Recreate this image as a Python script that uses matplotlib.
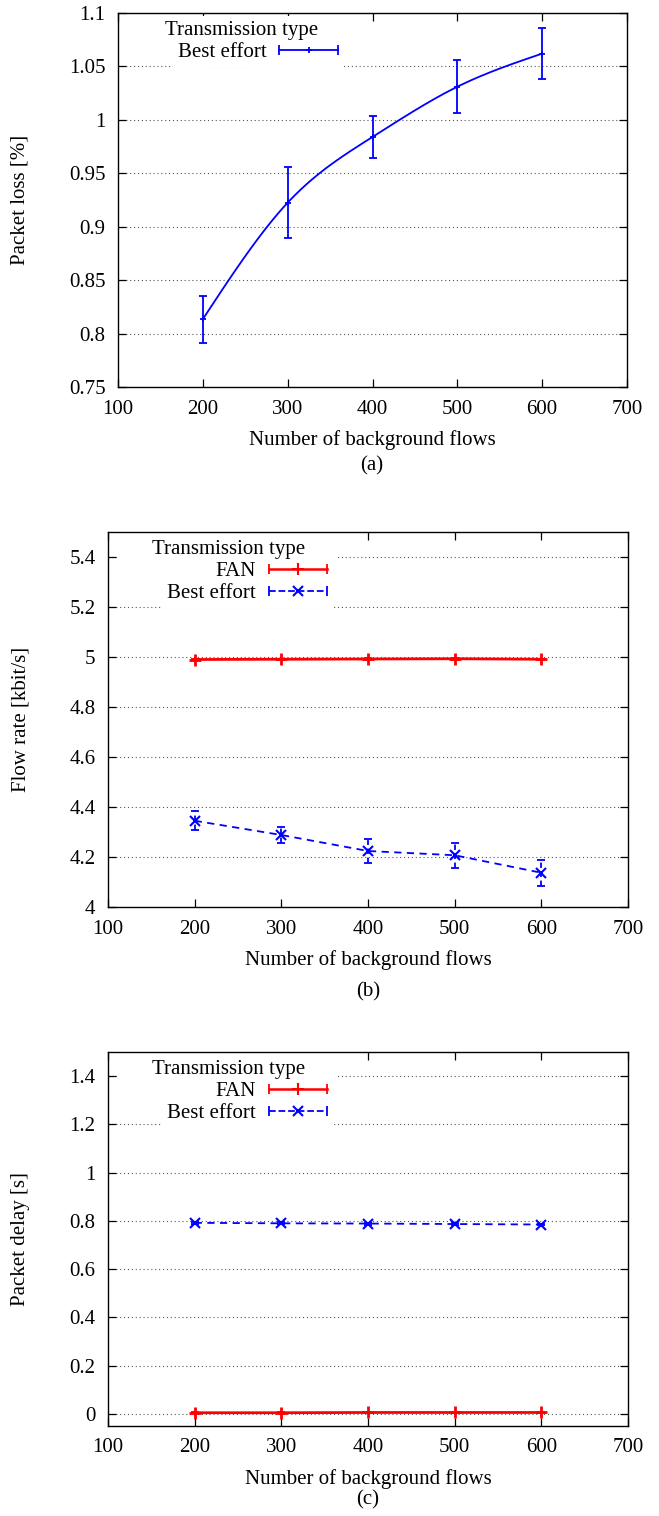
import numpy as np
import matplotlib
matplotlib.use("Agg")
import matplotlib.pyplot as plt
from matplotlib.lines import Line2D
from matplotlib.patches import Rectangle
from matplotlib.legend_handler import HandlerBase
from matplotlib.ticker import FormatStrFormatter

plt.rcParams['font.family'] = ['Liberation Serif', 'DejaVu Serif']
plt.rcParams['font.size'] = 15

# background flows (x axis for all three panels)
flows = [200, 300, 400, 500, 600]

# (a) packet loss, best effort only
loss_be = [0.8135, 0.9225, 0.984, 1.031, 1.062]
loss_be_err = [0.022, 0.033, 0.020, 0.025, 0.024]

# (b) flow rate
rate_fan = [4.990, 4.991, 4.992, 4.993, 4.991]
rate_fan_err = [0.003, 0.003, 0.003, 0.003, 0.003]
rate_be = [4.345, 4.288, 4.224, 4.207, 4.137]
rate_be_err = [0.038, 0.032, 0.048, 0.051, 0.053]

# (c) packet delay
delay_fan = [0.005, 0.005, 0.006, 0.006, 0.006]
delay_fan_err = [0.002, 0.002, 0.002, 0.002, 0.002]
delay_be = [0.792, 0.790, 0.789, 0.787, 0.785]
delay_be_err = [0.004, 0.004, 0.004, 0.004, 0.004]

BLUE = '#0000ff'
RED = '#ff0000'


def natural_spline(x, y, n=300):
    # like gnuplot "smooth csplines"
    x = np.asarray(x, float)
    y = np.asarray(y, float)
    h = np.diff(x)
    nn = len(x)
    A = np.zeros((nn, nn))
    r = np.zeros(nn)
    A[0, 0] = A[-1, -1] = 1
    for i in range(1, nn - 1):
        A[i, i - 1] = h[i - 1]
        A[i, i] = 2 * (h[i - 1] + h[i])
        A[i, i + 1] = h[i]
        r[i] = 3 * ((y[i + 1] - y[i]) / h[i] - (y[i] - y[i - 1]) / h[i - 1])
    c = np.linalg.solve(A, r)
    b = (y[1:] - y[:-1]) / h - h * (2 * c[:-1] + c[1:]) / 3
    d = (c[1:] - c[:-1]) / (3 * h)
    xs = np.linspace(x[0], x[-1], n)
    idx = np.clip(np.searchsorted(x, xs) - 1, 0, nn - 2)
    dx = xs - x[idx]
    ys = y[idx] + b[idx] * dx + c[idx] * dx ** 2 + d[idx] * dx ** 3
    return xs, ys


class ErrHandler(HandlerBase):
    # gnuplot style key sample: horizontal bar with end caps and point in the middle
    def create_artists(self, legend, orig, xdescent, ydescent, width, height,
                       fontsize, trans):
        y = height / 2 - ydescent
        x0 = -xdescent
        x1 = -xdescent + width
        col = orig.get_color()
        line = Line2D([x0, x1], [y, y], color=col, ls=orig.get_linestyle(),
                      lw=orig.get_linewidth())
        caps = Line2D([x0, x1], [y, y], ls='none', marker='|', ms=7,
                      mew=1.3, color=col)
        mid = Line2D([(x0 + x1) / 2], [y], ls='none', marker=orig.get_marker(),
                     ms=orig.get_markersize(), mew=orig.get_markeredgewidth(), color=col)
        for a in (line, caps, mid):
            a.set_transform(trans)
        return [line, caps, mid]


def style_axes(ax, ylim, yticks, fmt):
    ax.set_xlim(100, 700)
    ax.set_xticks([100, 200, 300, 400, 500, 600, 700])
    ax.set_ylim(*ylim)
    ax.set_yticks(yticks)
    ax.yaxis.set_major_formatter(FormatStrFormatter(fmt))
    ax.tick_params(direction='in', top=True, right=True, length=6, width=0.9,
                   labelsize=15, pad=9)
    ax.yaxis.grid(True, linestyle=(0, (1, 2.5)), color='#555555', lw=0.8)
    ax.set_axisbelow(True)
    for s in ax.spines.values():
        s.set_linewidth(1.0)
    ax.set_xlabel('Number of background flows', fontsize=15, labelpad=8)


def add_legend(ax, handles, labels, anchor, hl, title_shift, blank=None):
    leg = ax.legend(handles, labels, title='Transmission type', loc='upper left',
                    bbox_to_anchor=anchor, markerfirst=False, frameon=True,
                    fancybox=False, edgecolor='none', facecolor='white',
                    framealpha=1, handlelength=hl, fontsize=15, title_fontsize=15,
                    labelspacing=0.12, borderpad=0.25, handletextpad=0.6,
                    borderaxespad=0, alignment='left',
                    handler_map={Line2D: ErrHandler()})
    # gnuplot puts the key title a bit left of the entries
    leg.get_title().set_position((-title_shift, 0))
    if blank is not None:
        # the key area hides the grid (but not the tick) from the left border on
        ax.add_patch(Rectangle((0.017, blank[1]), blank[0] - 0.017, 1 - blank[1],
                               transform=ax.transAxes, facecolor='white',
                               edgecolor='none', zorder=1))
    return leg


fig = plt.figure(figsize=(6.59, 15.16), dpi=100)
W, H = 659.0, 1516.0


def axes_px(left, top, right, bottom):
    return fig.add_axes([left / W, 1 - bottom / H, (right - left) / W, (bottom - top) / H])


# ---- (a) packet loss
ax1 = axes_px(118, 13, 627, 387)
ax1.errorbar(flows, loss_be, yerr=loss_be_err, fmt='none', ecolor=BLUE,
             elinewidth=1.3, capsize=3, capthick=1.3)
sx, sy = natural_spline(flows, loss_be)
ax1.plot(sx, sy, color=BLUE, lw=1.3)
ax1.plot(flows, loss_be, ls='none', marker='+', ms=5, mew=1.3, color=BLUE)
style_axes(ax1, (0.75, 1.1), [0.75, 0.8, 0.85, 0.9, 0.95, 1.0, 1.05, 1.1], '%g')
ax1.set_ylabel('Packet loss [%]', fontsize=15)
ax1.yaxis.set_label_coords((30 - 118) / 509.0, 0.5)
h_be = Line2D([], [], color=BLUE, lw=1.3, marker='+', ms=5, mew=1.3)
add_legend(ax1, [h_be], ['Best effort'], (0.108, 0.993), 2.83, 13)
fig.text(372 / W, 1 - 466 / H, '(a)', ha='center', va='center', fontsize=15)

# ---- (b) flow rate
ax2 = axes_px(108, 532, 628, 907)
ax2.errorbar(flows, rate_fan, yerr=rate_fan_err, fmt='none', ecolor=RED,
             elinewidth=1.3, capsize=3, capthick=1.3)
ax2.plot(flows, rate_fan, color=RED, lw=2, marker='+', ms=9, mew=2)
eb = ax2.errorbar(flows, rate_be, yerr=rate_be_err, fmt='none', ecolor=BLUE,
                  elinewidth=1.3, capsize=3, capthick=1.3)
eb[2][0].set_linestyle((0, (3, 2)))
ax2.plot(flows, rate_be, color=BLUE, lw=1.3, ls=(0, (4, 3)), marker='x', ms=7, mew=1.5)
style_axes(ax2, (4.0, 5.5), [4.0, 4.2, 4.4, 4.6, 4.8, 5.0, 5.2, 5.4], '%g')
ax2.set_ylabel('Flow rate [kbit/s]', fontsize=15)
ax2.yaxis.set_label_coords((30 - 108) / 520.0, 0.5)
h_fan = Line2D([], [], color=RED, lw=1.8, marker='+', ms=8, mew=1.5)
h_be2 = Line2D([], [], color=BLUE, lw=1.3, ls=(0, (3, 2)), marker='x', ms=7, mew=1.5)
add_legend(ax2, [h_fan, h_be2], ['FAN', 'Best effort'], (0.104, 0.993), 2.83, 15,
           blank=(0.438, 0.82))
fig.text(368 / W, 1 - 992 / H, '(b)', ha='center', va='center', fontsize=15)

# ---- (c) packet delay
ax3 = axes_px(108, 1052, 628, 1426)
ax3.errorbar(flows, delay_fan, yerr=delay_fan_err, fmt='none', ecolor=RED,
             elinewidth=1.3, capsize=3, capthick=1.3)
ax3.plot(flows, delay_fan, color=RED, lw=2, marker='+', ms=9, mew=2)
eb = ax3.errorbar(flows, delay_be, yerr=delay_be_err, fmt='none', ecolor=BLUE,
                  elinewidth=1.3, capsize=3, capthick=1.3)
eb[2][0].set_linestyle((0, (3, 2)))
ax3.plot(flows, delay_be, color=BLUE, lw=1.3, ls=(0, (4, 3)), marker='x', ms=7, mew=1.5)
style_axes(ax3, (-0.05, 1.5), [0, 0.2, 0.4, 0.6, 0.8, 1.0, 1.2, 1.4], '%g')
ax3.set_ylabel('Packet delay [s]', fontsize=15)
ax3.yaxis.set_label_coords((30 - 108) / 520.0, 0.5)
add_legend(ax3, [h_fan, h_be2], ['FAN', 'Best effort'], (0.104, 0.993), 2.83, 15,
           blank=(0.438, 0.82))
fig.text(368 / W, 1 - 1500 / H, '(c)', ha='center', va='center', fontsize=15)

fig.savefig('out.png', dpi=100)
